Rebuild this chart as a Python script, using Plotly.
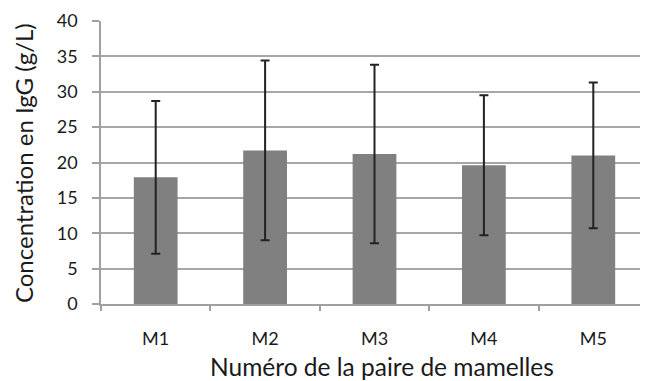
import plotly.graph_objects as go

categories = ["M1", "M2", "M3", "M4", "M5"]
means = [17.9, 21.7, 21.2, 19.6, 21.0]
errors = [10.8, 12.7, 12.6, 9.9, 10.3]
y_ticks = [0, 5, 10, 15, 20, 25, 30, 35, 40]

FONT = "Lato"
TXT = "#1a1a1a"

fig = go.Figure()
fig.add_trace(go.Bar(
    x=categories, y=means,
    marker=dict(color="#808080", line=dict(width=0)),
    width=0.4,
    error_y=dict(type="data", array=errors, visible=True,
                 color="#222222", thickness=2, width=4.5),
))

# The page body has an 8px default margin, so the figure is 640x373.
fig.update_layout(
    width=640, height=373,
    margin=dict(l=93, r=0, t=13, b=77, autoexpand=False),
    paper_bgcolor="white", plot_bgcolor="white",
    showlegend=False,
    font=dict(family=FONT, color=TXT),
    xaxis=dict(
        type="category",
        range=[-0.5, 4.5],
        tickson="boundaries",
        ticks="outside", ticklen=5, tickcolor="#a0a0a0", tickwidth=1.5,
        showline=True, linecolor="#a0a0a0", linewidth=1.5,
        showgrid=False,
        ticklabelstandoff=18,
        tickfont=dict(size=18, family=FONT, color=TXT),
    ),
    yaxis=dict(
        range=[0, 40],
        tickvals=y_ticks,
        ticks="outside", ticklen=7, tickcolor="#a0a0a0", tickwidth=1.5,
        showline=True, linecolor="#a0a0a0", linewidth=1.5,
        showgrid=True, gridcolor="#a6a6a6", gridwidth=1.5,
        zeroline=False,
        ticklabelstandoff=11,
        tickfont=dict(size=18, family=FONT, color=TXT),
    ),
    annotations=[
        dict(text="Numéro de la paire de mamelles", xref="paper", yref="paper",
             x=0.514, y=-0.2226, xanchor="center", yanchor="middle",
             showarrow=False, font=dict(size=24.5, family=FONT, color=TXT)),
        dict(text="Concentration en IgG (g/L)", xref="paper", yref="paper",
             x=-0.1426, y=0.498, xanchor="center", yanchor="middle",
             textangle=-90, showarrow=False,
             font=dict(size=24, family=FONT, color=TXT)),
    ],
)

fig.write_html("out.html")
